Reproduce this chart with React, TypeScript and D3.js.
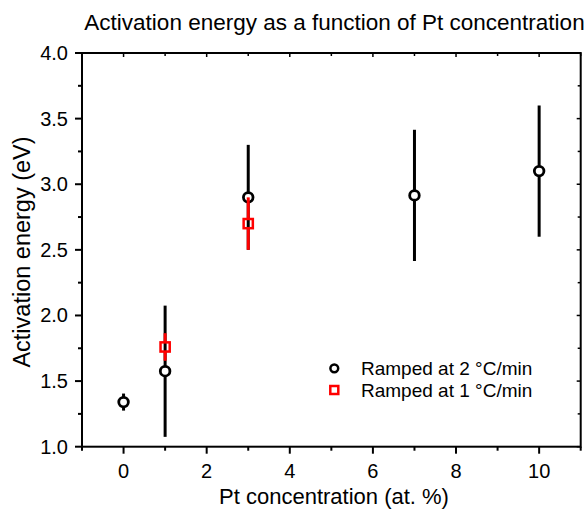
import React from "react";
import * as d3 from "d3";

const ramp2X = [0, 1, 3, 7, 10];
const ramp2Y = [1.34, 1.575, 2.9, 2.915, 3.1];
const ramp2Err = [0.065, 0.5, 0.4, 0.5, 0.5];

const ramp1X = [1, 3];
const ramp1Y = [1.76, 2.7];
const ramp1Err = [0.105, 0.2];

const xMajorTicks = [0, 2, 4, 6, 8, 10];
const xMinorTicks = [-1, 1, 3, 5, 7, 9, 11];
const yMajorTicks = [1.0, 1.5, 2.0, 2.5, 3.0, 3.5, 4.0];
const yMinorTicks = [1.25, 1.75, 2.25, 2.75, 3.25, 3.75];

const legendLabels = ["Ramped at 2 \u00B0C/min", "Ramped at 1 \u00B0C/min"];

const W = 587;
const H = 517;
const L = 82;
const R = 580.7;
const T = 53;
const B = 446.7;
const FONT = "'Liberation Sans', Arial, Helvetica, sans-serif";

export default function App() {
  const x = d3.scaleLinear().domain([-1, 11]).range([L, R]);
  const y = d3.scaleLinear().domain([1, 4]).range([B, T]);

  const circR = 4.8;
  const sq = 9.2;

  return (
    <svg
      width={W}
      height={H}
      style={{ position: "absolute", left: 0, top: 0, background: "#fff" }}
      fontFamily={FONT}
    >
      <rect x={0} y={0} width={W} height={H} fill="#fff" />
      {/* Title */}
      <text x={334.5} y={30} textAnchor="middle" fontSize={22.5} fill="#000">
        Activation energy as a function of Pt concentration
      </text>

      {/* frame */}
      <rect x={L} y={T} width={R - L} height={B - T} fill="none" stroke="#000" strokeWidth={2} />

      {/* x ticks bottom */}
      {xMajorTicks.map((t) => (
        <g key={"xm" + t}>
          <line x1={x(t)} x2={x(t)} y1={B} y2={B + 7} stroke="#000" strokeWidth={2} />
          <line x1={x(t)} x2={x(t)} y1={T} y2={T + 4} stroke="#000" strokeWidth={1.5} />
          <text x={x(t)} y={478} textAnchor="middle" fontSize={20} fill="#000">
            {t}
          </text>
        </g>
      ))}
      {xMinorTicks.map((t) => (
        <g key={"xn" + t}>
          <line x1={x(t)} x2={x(t)} y1={B} y2={B + 4} stroke="#000" strokeWidth={2} />
          <line x1={x(t)} x2={x(t)} y1={T} y2={T + 3} stroke="#000" strokeWidth={1.5} />
        </g>
      ))}

      {/* y ticks */}
      {yMajorTicks.map((t) => (
        <g key={"ym" + t}>
          <line x1={L - 7} x2={L} y1={y(t)} y2={y(t)} stroke="#000" strokeWidth={2} />
          <line x1={R - 4} x2={R} y1={y(t)} y2={y(t)} stroke="#000" strokeWidth={1.5} />
          <text x={68} y={y(t) + 7} textAnchor="end" fontSize={20} fill="#000">
            {t.toFixed(1)}
          </text>
        </g>
      ))}
      {yMinorTicks.map((t) => (
        <g key={"yn" + t}>
          <line x1={L - 4} x2={L} y1={y(t)} y2={y(t)} stroke="#000" strokeWidth={2} />
          <line x1={R - 3} x2={R} y1={y(t)} y2={y(t)} stroke="#000" strokeWidth={1.5} />
        </g>
      ))}

      {/* axis labels */}
      <text x={334} y={504} textAnchor="middle" fontSize={22} fill="#000">
        Pt concentration (at. %)
      </text>
      <text
        transform={`translate(30, 252) rotate(-90)`}
        textAnchor="middle"
        fontSize={23.5}
        fill="#000"
      >
        Activation energy (eV)
      </text>

      {/* series 2 °C/min */}
      {ramp2X.map((v, i) => {
        const cx = x(v);
        const cy = y(ramp2Y[i]);
        const top = y(ramp2Y[i] + ramp2Err[i]);
        const bot = y(ramp2Y[i] - ramp2Err[i]);
        return (
          <g key={"s2" + i}>
            {top < cy - circR && (
              <line x1={cx} x2={cx} y1={top} y2={cy - circR} stroke="#000" strokeWidth={3} />
            )}
            {bot > cy + circR && (
              <line x1={cx} x2={cx} y1={cy + circR} y2={bot} stroke="#000" strokeWidth={3} />
            )}
            <circle cx={cx} cy={cy} r={circR} fill="#fff" stroke="#000" strokeWidth={2.8} />
          </g>
        );
      })}

      {/* series 1 °C/min */}
      {ramp1X.map((v, i) => {
        const cx = x(v);
        const cy = y(ramp1Y[i]);
        const top = y(ramp1Y[i] + ramp1Err[i]);
        const bot = y(ramp1Y[i] - ramp1Err[i]);
        return (
          <g key={"s1" + i}>
            <line x1={cx} x2={cx} y1={top} y2={cy - sq / 2} stroke="#f00" strokeWidth={3} />
            <line x1={cx} x2={cx} y1={cy + sq / 2} y2={bot} stroke="#f00" strokeWidth={3} />
            <rect
              x={cx - sq / 2}
              y={cy - sq / 2}
              width={sq}
              height={sq}
              fill="none"
              stroke="#f00"
              strokeWidth={2.5}
            />
          </g>
        );
      })}

      {/* legend */}
      <circle cx={334.3} cy={368.3} r={3.9} fill="#fff" stroke="#000" strokeWidth={2.5} />
      <rect x={334.3 - 4} y={390 - 4} width={8} height={8} fill="none" stroke="#f00" strokeWidth={2.5} />
      <text x={361} y={375} fontSize={19} fill="#000">
        {legendLabels[0]}
      </text>
      <text x={361} y={397} fontSize={19} fill="#000">
        {legendLabels[1]}
      </text>
    </svg>
  );
}
